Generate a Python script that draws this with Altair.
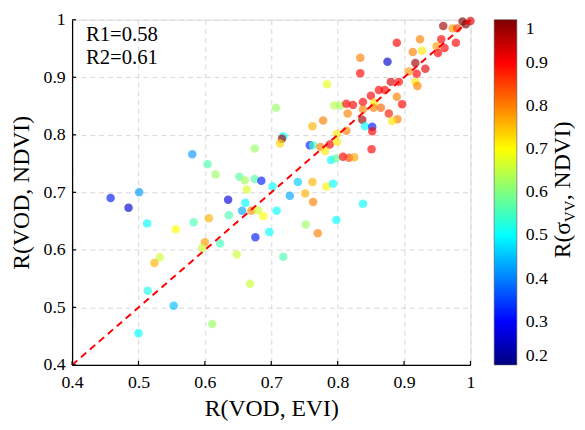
import altair as alt
import pandas as pd

# ---- data ----
evi = [0.458, 0.485, 0.501, 0.513, 0.556, 0.581, 0.583, 0.604, 0.616, 0.600,
       0.596, 0.532, 0.524, 0.514, 0.553, 0.500, 0.611, 0.648, 0.668, 0.623,
       0.606, 0.636, 0.635, 0.661, 0.656, 0.670, 0.680, 0.688, 0.676, 0.697,
       0.708, 0.728, 0.751, 0.763, 0.798, 0.752, 0.770, 0.718, 0.838,
       0.652, 0.660, 0.675, 0.685, 0.663, 0.702, 0.740, 0.762, 0.783, 0.793,
       0.675, 0.707, 0.778, 0.762, 0.718, 0.716, 0.713, 0.758, 0.763, 0.774,
       0.788, 0.781, 0.790, 0.797, 0.808, 0.817, 0.825, 0.799, 0.851, 0.799,
       0.813, 0.815, 0.784, 0.834, 0.834, 0.795, 0.804, 0.813, 0.823, 0.838,
       0.850, 0.855, 0.854, 0.865, 0.838, 0.837, 0.841, 0.852, 0.852, 0.862,
       0.871, 0.877, 0.890, 0.882, 0.889, 0.897, 0.880, 0.892, 0.875, 0.889,
       0.917, 0.932, 0.919, 0.907, 0.917, 0.920, 0.913, 0.927, 0.924, 0.956,
       0.978, 0.949, 0.961, 0.951, 0.959, 0.973, 0.980, 0.988, 0.993, 1.000]
ndvi = [0.690, 0.673, 0.700, 0.646, 0.636, 0.766, 0.648, 0.749, 0.731, 0.613,
        0.603, 0.587, 0.577, 0.529, 0.503, 0.455, 0.471, 0.592, 0.541, 0.611,
        0.655, 0.660, 0.687, 0.682, 0.668, 0.668, 0.669, 0.659, 0.622, 0.631,
        0.668, 0.694, 0.698, 0.683, 0.652, 0.644, 0.629, 0.588, 0.680,
        0.727, 0.721, 0.723, 0.720, 0.705, 0.710, 0.718, 0.718, 0.710, 0.715,
        0.776, 0.847, 0.825, 0.815, 0.797, 0.793, 0.785, 0.782, 0.782, 0.779,
        0.783, 0.772, 0.756, 0.759, 0.762, 0.760, 0.761, 0.788, 0.775, 0.802,
        0.807, 0.837, 0.888, 0.907, 0.934, 0.851, 0.851, 0.854, 0.852, 0.857,
        0.868, 0.856, 0.847, 0.847, 0.844, 0.826, 0.815, 0.814, 0.806, 0.878,
        0.878, 0.837, 0.827, 0.824, 0.866, 0.853, 0.892, 0.892, 0.927, 0.960,
        0.925, 0.915, 0.906, 0.910, 0.892, 0.885, 0.944, 0.946, 0.966, 0.966,
        0.960, 0.954, 0.951, 0.942, 0.989, 0.985, 0.985, 0.997, 0.992, 0.998]
rsig = [0.32, 0.26, 0.42, 0.50, 0.70, 0.42, 0.56, 0.56, 0.62, 0.78,
        0.66, 0.66, 0.76, 0.52, 0.45, 0.50, 0.62, 0.66, 0.66, 0.55,
        0.76, 0.56, 0.27, 0.50, 0.43, 0.79, 0.66, 0.70, 0.32, 0.50,
        0.50, 0.43, 0.76, 0.80, 0.50, 0.62, 0.80, 0.56, 0.50,
        0.57, 0.63, 0.57, 0.32, 0.67, 0.50, 0.46, 0.76, 0.71, 0.50,
        0.62, 0.62, 0.80, 0.76, 0.50, 0.97, 0.73, 0.32, 0.55, 0.80,
        0.90, 0.72, 0.50, 0.57, 0.90, 0.85, 0.77, 0.72, 0.90, 0.72,
        0.80, 0.80, 0.68, 0.90, 0.80, 0.64, 0.63, 0.90, 0.90, 0.90,
        0.90, 0.72, 0.80, 0.82, 0.80, 0.97, 0.50, 0.32, 0.90, 0.90,
        0.90, 0.88, 0.80, 0.72, 0.80, 0.90, 0.93, 0.90, 0.26, 0.90,
        0.97, 0.92, 0.90, 0.78, 0.72, 0.80, 0.80, 0.72, 0.80, 0.90,
        0.90, 0.78, 0.90, 0.90, 0.97, 0.78, 0.85, 1.00, 1.00, 0.93]

axis_ticks = [0.4, 0.5, 0.6, 0.7, 0.8, 0.9, 1.0]
cbar_ticks = [0.2, 0.3, 0.4, 0.5, 0.6, 0.7, 0.8, 0.9, 1.0]
cbar_stops = [0.2, 0.3, 0.5, 0.7, 0.9, 1.0]
cbar_colors = ["#00007f", "#0000ff", "#00ffff", "#ffff00", "#ff0000", "#7f0000"]
diag_x = [0.4, 1.0]
diag_y = [0.4, 1.0]
stats_text = ["R1=0.58", "R2=0.61"]

W, H = 404, 350
CB_X, CB_W = 428, 23
FONT = "Liberation Serif"

df = pd.DataFrame({"evi": evi, "ndvi": ndvi, "r": rsig})
xs = alt.Scale(domain=[0.4, 1.0], nice=False, zero=False)
ys = alt.Scale(domain=[0.4, 1.0], nice=False, zero=False)

axis_common = dict(values=axis_ticks, format=".1~f", ticks=False, grid=True,
                   gridDash=[5, 4], gridColor="#d6d6d6", gridWidth=1,
                   domainColor="black", domainWidth=1.3,
                   labelFont=FONT, labelFontSize=18, labelColor="black",
                   titleFont=FONT, titleFontSize=24, titleColor="black",
                   titleFontWeight="normal", labelFlush=False)

points = alt.Chart(df).mark_circle(size=74, fillOpacity=0.65, strokeWidth=0).encode(
    x=alt.X("evi:Q", scale=xs,
            axis=alt.Axis(title="R(VOD, EVI)", labelPadding=9, titlePadding=5, **axis_common)),
    y=alt.Y("ndvi:Q", scale=ys,
            axis=alt.Axis(title="R(VOD, NDVI)", labelPadding=7, titlePadding=10, **axis_common)),
    color=alt.Color("r:Q",
                    scale=alt.Scale(domain=cbar_stops, range=cbar_colors, interpolate="rgb"),
                    legend=alt.Legend(orient="none", legendX=CB_X, legendY=0, direction="vertical",
                                      title=None, gradientLength=H, gradientThickness=CB_W,
                                      values=cbar_ticks, format=".1~f",
                                      labelFont=FONT, labelFontSize=18, labelColor="black",
                                      labelOffset=9, labelBaseline="middle", labelOverlap=False,
                                      gradientStrokeColor="#555", gradientStrokeWidth=0.6,
                                      padding=0)),
)

diag = alt.Chart(pd.DataFrame({"x": diag_x, "y": diag_y})).mark_line(
    color="#ff0000", strokeWidth=2, strokeDash=[7, 5]).encode(
    x=alt.X("x:Q", scale=xs), y=alt.Y("y:Q", scale=ys))

tick_df = pd.DataFrame({"v": axis_ticks})
xticks = alt.Chart(tick_df).mark_rule(color="black", strokeWidth=1.2).encode(
    x=alt.X("v:Q", scale=xs), y=alt.value(H), y2=alt.value(H - 4))
yticks = alt.Chart(tick_df).mark_rule(color="black", strokeWidth=1.2).encode(
    y=alt.Y("v:Q", scale=ys), x=alt.value(0), x2=alt.value(4))

stats = []
for i, t in enumerate(stats_text):
    stats.append(alt.Chart(pd.DataFrame({"t": [t]})).mark_text(
        font=FONT, fontSize=21, align="left", baseline="alphabetic", color="black").encode(
        text="t:N", x=alt.value(14), y=alt.value(22 + 23 * i)))

# colorbar label: R(σ_VV, NDVI) built from pieces (rotated)
p1 = 205
cb1 = alt.Chart(pd.DataFrame({"t": ["R(σ"]})).mark_text(
    font=FONT, fontSize=24, angle=270, align="right", baseline="alphabetic", color="black").encode(
    text="t:N", x=alt.value(505), y=alt.value(p1))
cb2 = alt.Chart(pd.DataFrame({"t": ["VV"]})).mark_text(
    font=FONT, fontSize=15, angle=270, align="left", baseline="alphabetic", color="black").encode(
    text="t:N", x=alt.value(510), y=alt.value(p1))
cb3 = alt.Chart(pd.DataFrame({"t": [", NDVI)"]})).mark_text(
    font=FONT, fontSize=24, angle=270, align="left", baseline="alphabetic", color="black").encode(
    text="t:N", x=alt.value(505), y=alt.value(p1 - 22))

main = alt.layer(points, diag, xticks, yticks, *stats, cb1, cb2, cb3)

# small inner ticks on the colorbar's right edge
cbt = alt.Chart(pd.DataFrame({"c": cbar_ticks[1:-1]})).mark_rule(
    color="#333", strokeWidth=1).encode(
    y=alt.Y("c:Q", scale=alt.Scale(domain=[0.2, 1.0], nice=False, zero=False), axis=None),
    x=alt.value(CB_X + CB_W - 4), x2=alt.value(CB_X + CB_W))

chart = alt.layer(main, cbt).resolve_scale(y="independent").properties(
    width=W, height=H,
    autosize=alt.AutoSizeParams(type="none"),
    padding={"left": 65, "top": 9, "right": 108, "bottom": 55},
).configure_view(stroke=None).configure(font=FONT)

chart.save("out.html", embed_options={"renderer": "svg", "actions": False})
